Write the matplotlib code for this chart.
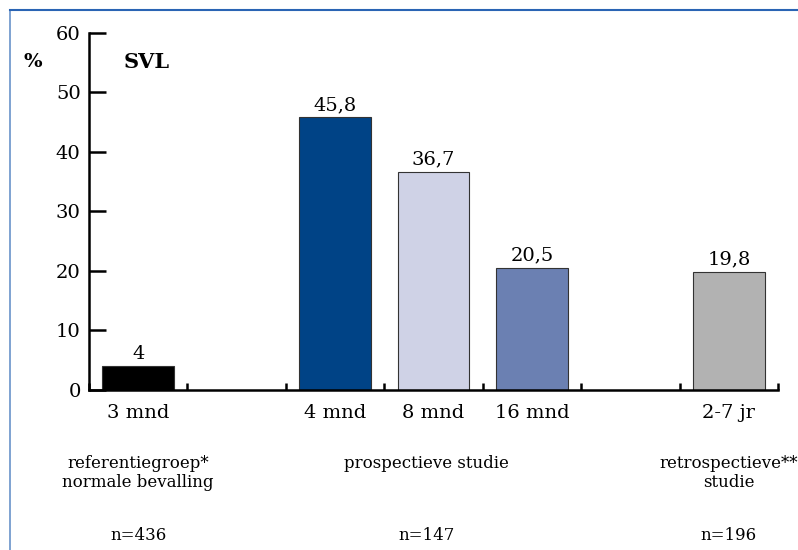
import matplotlib.pyplot as plt
from matplotlib.lines import Line2D

# slots on the x axis (0..6), slots 1 and 5 stay empty
slots = [0, 2, 3, 4, 6]
periods = ["3 mnd", "4 mnd", "8 mnd", "16 mnd", "2-7 jr"]
values = [4, 45.8, 36.7, 20.5, 19.8]
value_labels = ["4", "45,8", "36,7", "20,5", "19,8"]
colors = ["#000000", "#004386", "#cfd2e6", "#6b80b2", "#b2b2b2"]

groups = ["referentiegroep*\nnormale bevalling", "prospectieve studie",
          "retrospectieve**\nstudie"]
group_x = [0.5, 3.43, 6.5]
group_n = ["n=436", "n=147", "n=196"]

plt.rcParams['font.family'] = ['DejaVu Serif']

fig = plt.figure(figsize=(7.98, 5.5), dpi=100)
ax = fig.add_axes([0.1115, 0.291, 0.8635, 0.649])

xs = [s + 0.5 for s in slots]
ax.bar(xs, values, width=0.73, color=colors, edgecolor="#333333", linewidth=0.8)
for x, v, lab in zip(xs, values, value_labels):
    ax.text(x, v + 0.6, lab, ha="center", va="bottom", fontsize=14)

ax.set_xlim(0, 7)
ax.set_ylim(0, 60)
ax.set_yticks(range(0, 61, 10))
ax.set_xticks(range(0, 8))
ax.set_xticklabels([])
ax.tick_params(axis="y", direction="in", length=12, width=1.8, labelsize=14, pad=6)
ax.tick_params(axis="x", direction="in", length=5, width=1.8)
for side in ("top", "right"):
    ax.spines[side].set_visible(False)
for side in ("left", "bottom"):
    ax.spines[side].set_linewidth(1.8)

# period names under the axis
for x, p in zip(xs, periods):
    ax.text(x, -2.3, p, ha="center", va="top", fontsize=14)

tr = ax.get_xaxis_transform()
for x, g, n in zip(group_x, groups, group_n):
    ax.text(x, -0.183, g, transform=tr, ha="center", va="top", fontsize=12,
            linespacing=1.1)
    ax.text(x, -0.385, n, transform=tr, ha="center", va="top", fontsize=12)

fig.text(33 / 798, 1 - 62 / 550, "%", ha="center", va="center", fontsize=14,
         fontweight="bold")
fig.text(124 / 798, 1 - 62 / 550, "SVL", ha="left", va="center", fontsize=15,
         fontweight="bold")

# blue frame along the top and left edge
frame = "#2a64b4"
fig.add_artist(Line2D([10 / 798, 1], [1 - 10 / 550] * 2, color=frame, lw=1.5,
                      transform=fig.transFigure))
fig.add_artist(Line2D([10 / 798] * 2, [0, 1 - 10 / 550], color=frame, lw=1.2,
                      alpha=0.7, transform=fig.transFigure))

fig.savefig("out.png", dpi=100)
